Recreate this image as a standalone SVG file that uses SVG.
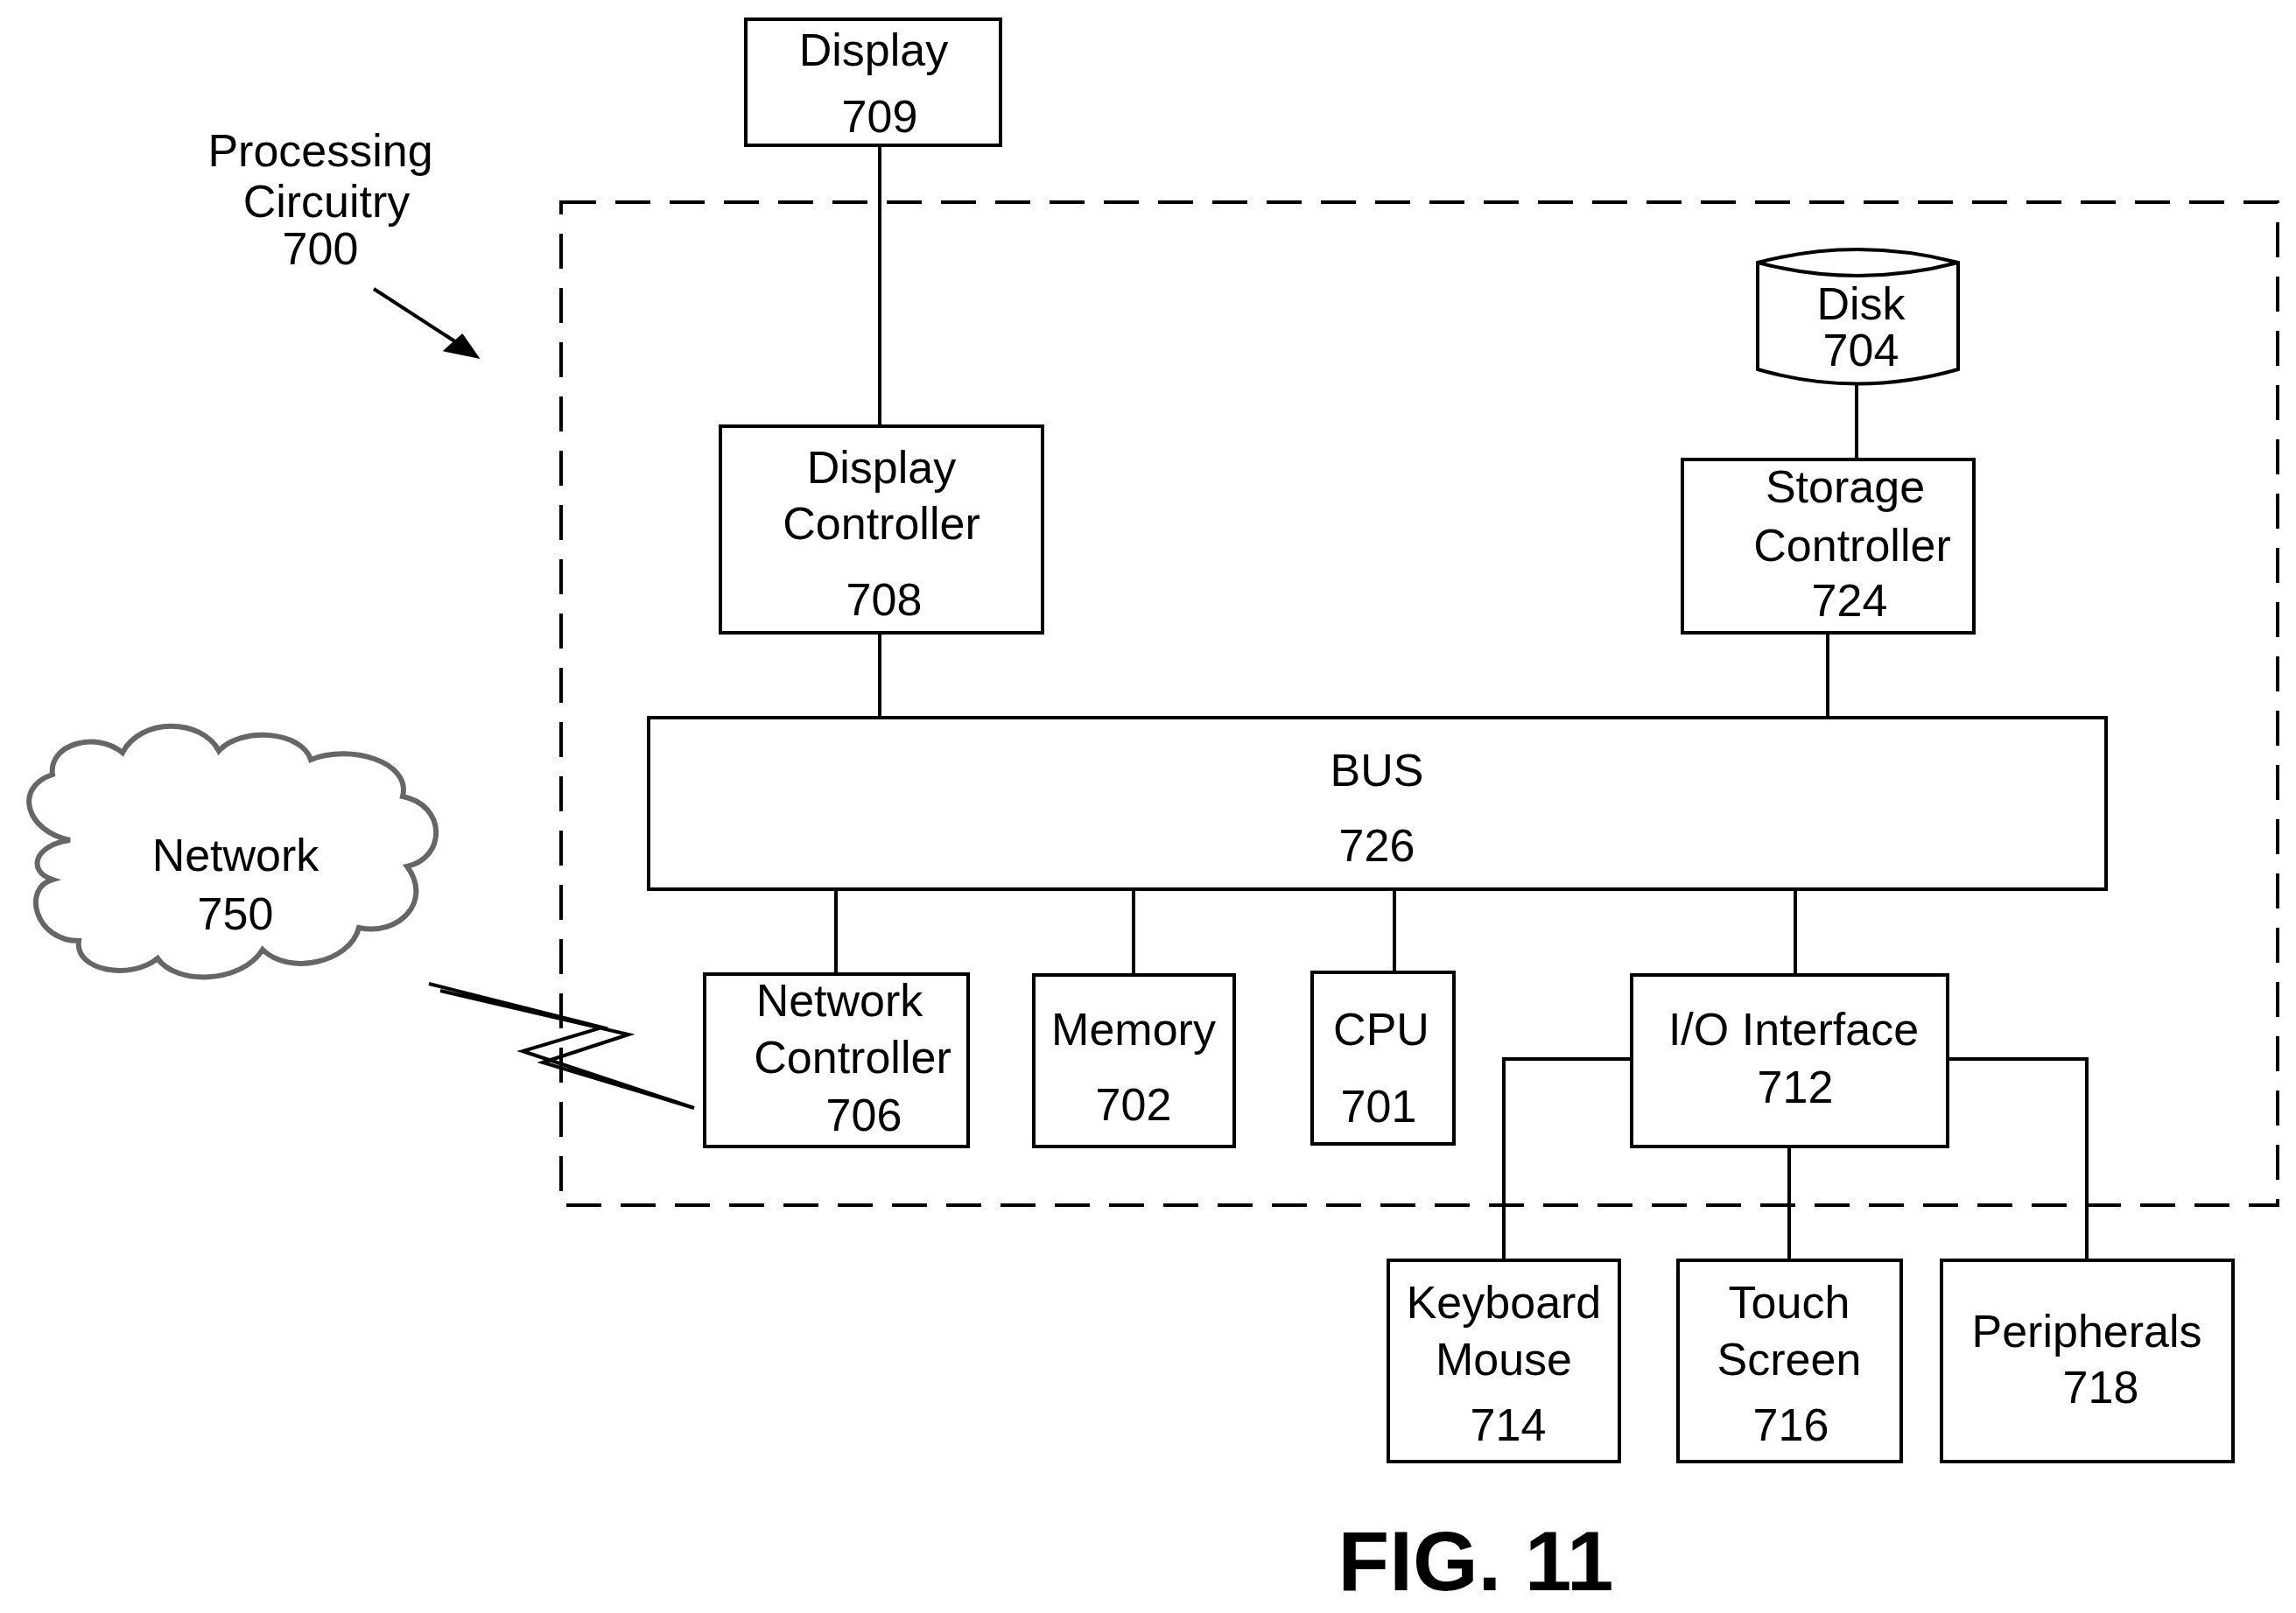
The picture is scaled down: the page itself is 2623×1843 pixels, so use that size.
<svg xmlns="http://www.w3.org/2000/svg" width="2623" height="1843" viewBox="0 0 2623 1843">
<style>
.b{fill:#fff;stroke:#000;stroke-width:4}
.l{fill:none;stroke:#000;stroke-width:4}
text{font-family:"Liberation Sans",Arial,sans-serif;font-size:52px;text-anchor:middle;fill:#000}
</style>
<rect width="2623" height="1843" fill="#fff"/>
<rect x="641" y="231" width="1961" height="1146" fill="none" stroke="#000" stroke-width="4" stroke-dasharray="40,22"/>
<g id="connectors" class="l">
<path d="M1005 166V487M1005 723V820M2121 440V525M2088 723V820M955 1016V1113M1295 1016V1114M1593 1016V1111M2051 1016V1114"/>
<path d="M1864 1210H1718V1440M2044 1310V1440M2225 1210H2384V1440"/>
<path d="M427 330L535 400"/>
<path d="M544 407L510 400L528 384Z" fill="#000"/>
<path d="M490 1124L688 1174L597 1201L793 1266L620 1214L718 1182L503 1132"/>
</g>
<g id="label700"><text x="366" y="190">Processing</text><text x="373" y="248">Circuitry</text><text x="366" y="302">700</text></g>
<g id="n709"><rect class="b" x="852" y="22" width="291" height="144"/><text x="998" y="75">Display</text><text x="1005" y="151">709</text></g>
<g id="n708"><rect class="b" x="823" y="487" width="368" height="236"/><text x="1007" y="552">Display</text><text x="1007" y="616">Controller</text><text x="1010" y="703">708</text></g>
<g id="n704"><path class="b" d="M2008 300Q2122 270 2237 300V422Q2122 455 2008 422Z"/><path class="l" d="M2008 300Q2122 330 2237 300"/><text x="2126" y="365">Disk</text><text x="2126" y="418">704</text></g>
<g id="n724"><rect class="b" x="1922" y="525" width="333" height="198"/><text x="2108" y="574">Storage</text><text x="2116" y="641">Controller</text><text x="2113" y="704">724</text></g>
<g id="n726"><rect class="b" x="741" y="820" width="1665" height="196"/><text x="1573" y="898">BUS</text><text x="1573" y="984">726</text></g>
<g id="n706"><rect class="b" x="805" y="1113" width="301" height="197"/><text x="959" y="1161">Network</text><text x="974" y="1226">Controller</text><text x="987" y="1292">706</text></g>
<g id="n702"><rect class="b" x="1181" y="1114" width="229" height="196"/><text x="1295" y="1194">Memory</text><text x="1295" y="1280">702</text></g>
<g id="n701"><rect class="b" x="1499" y="1111" width="162" height="196"/><text x="1578" y="1194">CPU</text><text x="1575" y="1282">701</text></g>
<g id="n712"><rect class="b" x="1864" y="1114" width="361" height="196"/><text x="2049" y="1194">I/O Interface</text><text x="2051" y="1260">712</text></g>
<g id="n714"><rect class="b" x="1586" y="1440" width="264" height="230"/><text x="1718" y="1506">Keyboard</text><text x="1718" y="1571">Mouse</text><text x="1723" y="1646">714</text></g>
<g id="n716"><rect class="b" x="1917" y="1440" width="255" height="230"/><text x="2044" y="1506">Touch</text><text x="2044" y="1571">Screen</text><text x="2046" y="1646">716</text></g>
<g id="n718"><rect class="b" x="2218" y="1440" width="333" height="230"/><text x="2384" y="1539">Peripherals</text><text x="2400" y="1603">718</text></g>
<g id="n750"><path d="M80 960C30 950 15 900 60 885C55 850 110 835 140 860C160 820 230 820 250 858C275 830 345 835 355 868C400 850 470 870 460 910C510 920 510 980 465 990C495 1030 455 1070 410 1060C400 1100 330 1115 300 1085C275 1125 200 1125 180 1095C150 1120 85 1110 90 1075C40 1075 25 1015 60 1005C30 995 40 965 80 960Z" fill="#fff" stroke="#666" stroke-width="6"/><text x="269" y="995">Network</text><text x="269" y="1062">750</text></g>
<text x="1686" y="1817" style="font-size:96px;font-weight:bold">FIG. 11</text>
</svg>
